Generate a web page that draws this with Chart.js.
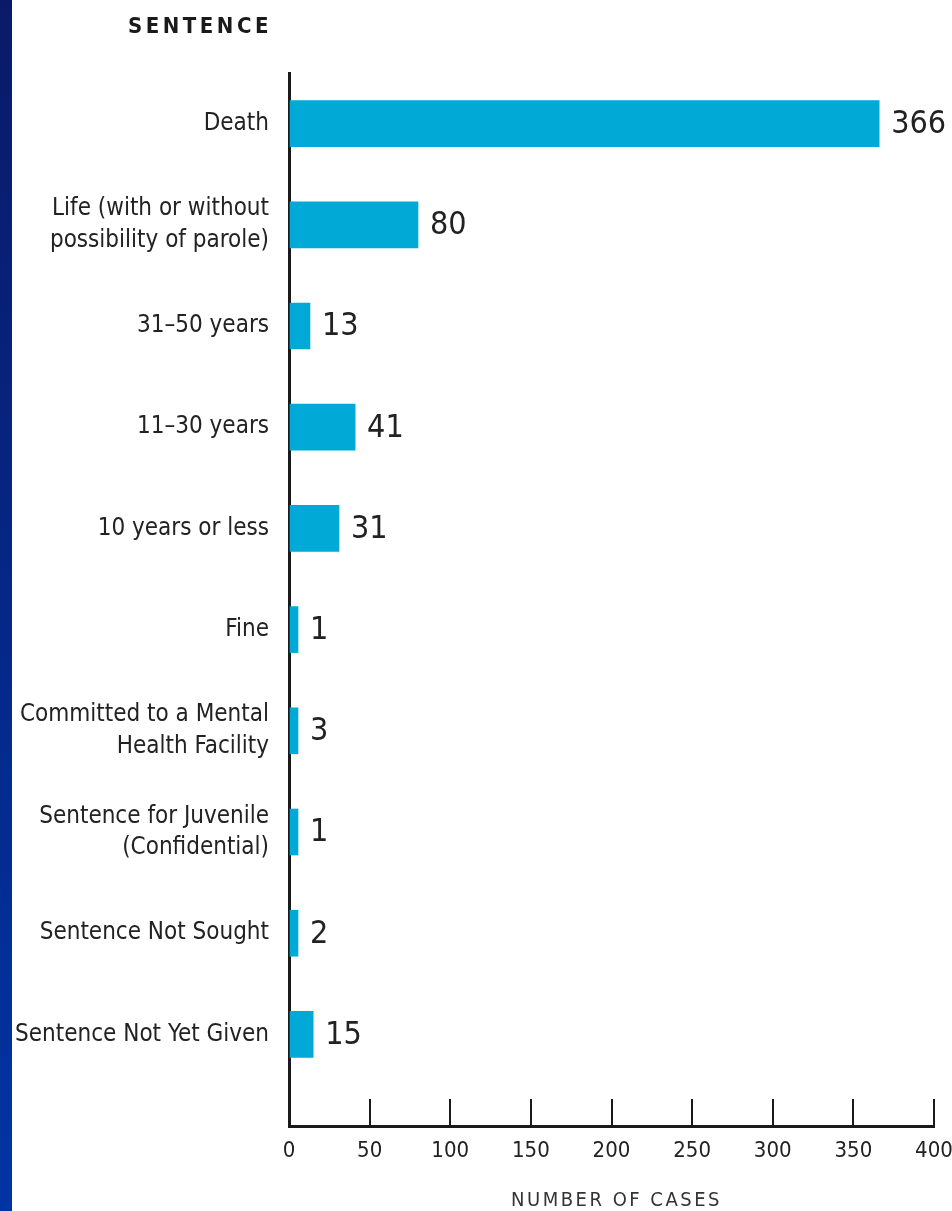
<!DOCTYPE html>
<html><head><meta charset="utf-8">
<script src="https://cdn.jsdelivr.net/npm/chart.js@4.4.1/dist/chart.umd.min.js"></script>
<style>
html,body{margin:0;padding:0;background:#fff;}
#wrap{position:relative;width:952px;height:1211px;overflow:hidden;background:#fff;}
#stripe{position:absolute;left:0;top:0;width:12px;height:1211px;background:linear-gradient(#0a1a68,#0034a4);}
canvas{position:absolute;left:0;top:0;}
</style></head><body>
<div id="wrap"><canvas id="c" width="952" height="1211"></canvas><div id="stripe"></div></div>
<script>
const chartTitle = "SENTENCE";
const axisTitle = "NUMBER OF CASES";
const categories = [
  ["Death"],
  ["Life (with or without", "possibility of parole)"],
  ["31\u201350 years"],
  ["11\u201330 years"],
  ["10 years or less"],
  ["Fine"],
  ["Committed to a Mental", "Health Facility"],
  ["Sentence for Juvenile", "(Confidential)"],
  ["Sentence Not Sought"],
  ["Sentence Not Yet Given"]
];
const values = [366, 80, 13, 41, 31, 1, 3, 1, 2, 15];
const xTickValues = [0, 50, 100, 150, 200, 250, 300, 350, 400];

const FONT = "'Liberation Sans Narrow', 'DejaVu Sans Condensed', 'Arial Narrow', sans-serif";
const INK = '#222222';
const BAR = '#00A9D6';

const textPlugin = {
  id: 'texts',
  afterDatasetsDraw(chart) {
    const ctx = chart.ctx;
    const meta = chart.getDatasetMeta(0);
    ctx.save();
    ctx.font = '32px ' + FONT;
    ctx.fillStyle = INK;
    ctx.textBaseline = 'middle';
    ctx.textAlign = 'left';
    meta.data.forEach((bar, i) => {
      ctx.fillText(String(values[i]), bar.x + 12, bar.y + 1);
    });
    ctx.restore();
  },
  afterDraw(chart) {
    const ctx = chart.ctx;
    const area = chart.chartArea;
    ctx.save();
    ctx.fillStyle = '#1a1a1a';
    ctx.textBaseline = 'alphabetic';
    ctx.font = 'bold 22px ' + FONT;
    ctx.letterSpacing = '3.5px';
    ctx.textAlign = 'left';
    ctx.fillText(chartTitle, 128, 33);
    ctx.font = '20px ' + FONT;
    ctx.letterSpacing = '2.5px';
    ctx.fillStyle = '#333';
    ctx.textAlign = 'center';
    ctx.fillText(axisTitle, (area.left + area.right) / 2 + 5, 1206);
    ctx.restore();
  }
};

new Chart(document.getElementById('c'), {
  type: 'bar',
  data: {
    datasets: [{
      data: categories.map((c, i) => ({ x: values[i], y: i })),
      backgroundColor: BAR,
      borderWidth: 0,
      barThickness: 46,
      minBarLength: 9
    }]
  },
  options: {
    indexAxis: 'y',
    responsive: false,
    animation: false,
    layout: { padding: { top: 73, left: 0, right: 18, bottom: 0 } },
    plugins: { legend: { display: false }, tooltip: { enabled: false }, title: { display: false } },
    scales: {
      y: {
        type: 'linear',
        reverse: true,
        offset: false,
        min: -0.5,
        max: 9.905,
        afterBuildTicks: s => { s.ticks = categories.map((_, i) => ({ value: i })); },
        afterFit: s => { s.width = 289; s.paddingTop = 0; s.paddingBottom = 0; },
        ticks: {
          callback: v => categories[v],
          padding: 20,
          color: INK,
          autoSkip: false,
          font: { family: FONT, size: 24, lineHeight: 1.3 }
        },
        grid: { display: false, drawTicks: false, offset: false },
        border: { display: true, color: '#1a1a1a', width: 3 }
      },
      x: {
        type: 'linear',
        position: 'bottom',
        min: 0,
        max: 400,
        afterBuildTicks: s => { s.ticks = xTickValues.map(v => ({ value: v })); },
        afterFit: s => { s.height = 85; s.paddingLeft = 0; s.paddingRight = 0; },
        ticks: {
          padding: 39,
          color: INK,
          autoSkip: false,
          maxRotation: 0,
          font: { family: FONT, size: 22, lineHeight: 1.2 }
        },
        grid: { display: true, drawOnChartArea: false, drawTicks: true, tickLength: -27, color: '#1a1a1a', lineWidth: 2 },
        border: { display: true, color: '#1a1a1a', width: 3 }
      }
    }
  },
  plugins: [textPlugin]
});
</script>
</body></html>
